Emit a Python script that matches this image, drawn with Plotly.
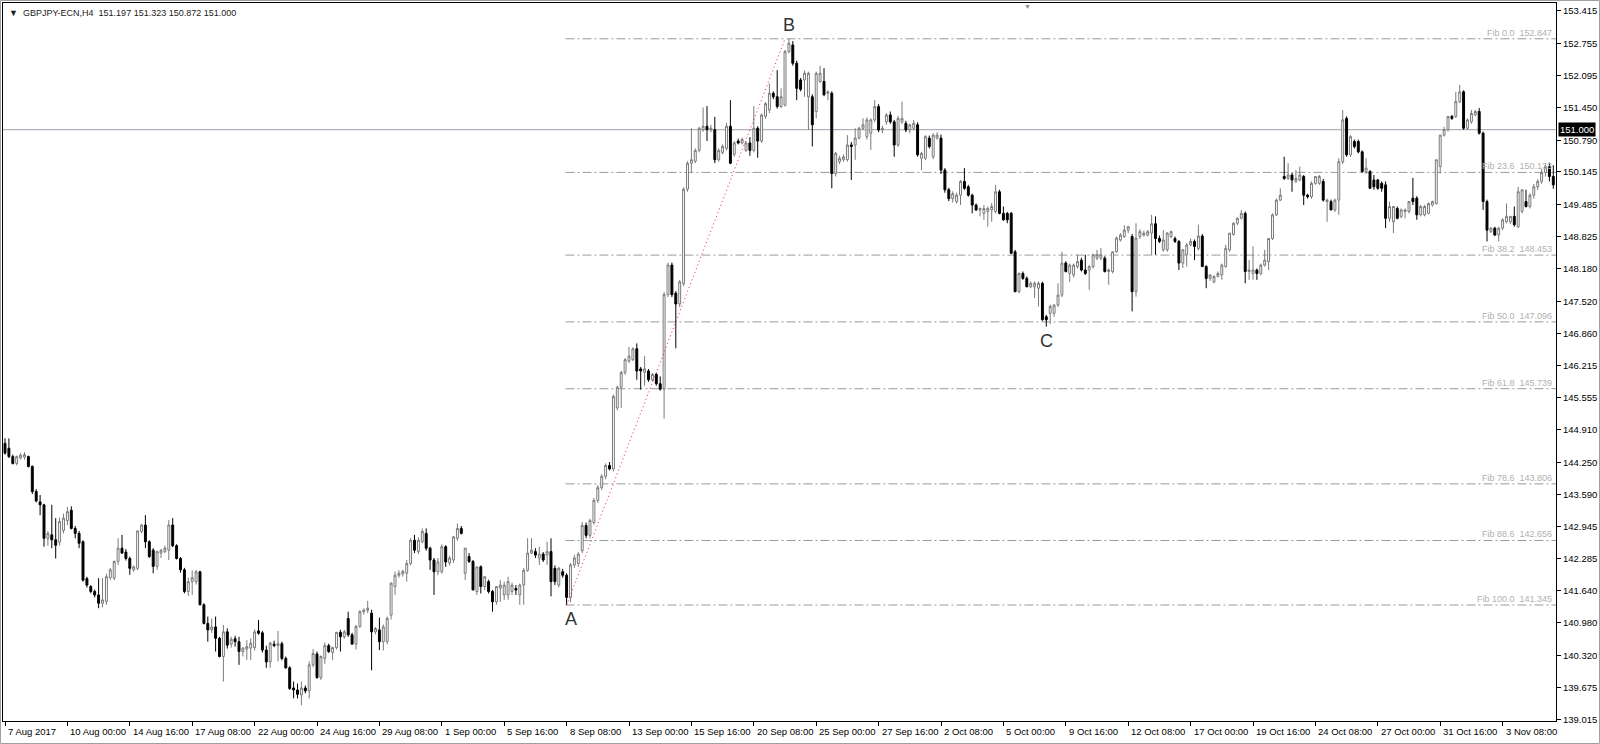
import plotly.graph_objects as go

# ---------------- data ----------------
symbol_header = "GBPJPY-ECN,H4  151.197 151.323 150.872 151.000"
bid_price = 151.000

opens = [
 144.63,144.53,144.36,144.22,144.33,144.35,144.36,144.16,143.65,143.44,
 143.38,142.70,142.77,142.67,142.62,142.86,143.06,143.27,142.90,142.80,
 142.63,141.88,141.72,141.62,141.55,141.38,141.42,141.90,141.89,142.23,
 142.50,142.42,142.29,142.06,142.09,142.84,142.97,142.63,142.46,142.13,
 142.40,142.43,142.46,142.97,142.55,142.29,142.06,141.62,141.82,141.82,
 142.02,141.35,140.97,140.84,140.90,140.67,140.30,140.80,140.55,140.66,
 140.60,140.40,140.45,140.47,140.48,140.82,140.78,140.43,140.19,140.55,
 140.52,140.56,140.26,140.07,139.66,139.62,139.52,139.66,139.60,140.13,
 140.35,139.87,140.26,140.52,140.38,140.48,140.79,140.70,141.07,140.74,
 140.55,140.91,141.21,141.24,141.18,140.80,140.84,140.60,140.60,141.14,
 141.72,141.95,141.98,141.99,142.19,142.66,142.43,142.63,142.80,142.50,
 142.26,142.02,142.02,142.53,142.20,142.26,142.70,142.90,141.99,142.33,
 142.23,141.62,142.12,141.72,141.82,141.62,141.41,141.69,141.55,141.55,
 141.62,141.68,141.55,141.75,142.05,142.40,142.43,142.30,142.38,142.36,
 142.43,142.09,141.75,142.02,141.95,141.50,142.16,142.19,142.45,142.96,
 142.76,143.02,143.47,143.73,143.96,144.18,144.11,145.35,145.77,146.07,
 146.30,146.33,146.55,146.14,146.07,146.10,145.92,146.03,145.84,145.73,
 147.65,148.25,147.68,147.46,147.87,149.79,150.32,150.36,150.58,151.00,
 151.07,151.00,151.00,150.39,150.54,150.62,151.07,150.50,150.77,150.73,
 150.58,150.73,150.58,151.03,150.77,151.27,151.40,151.74,151.67,151.47,
 151.50,152.586,152.72,152.35,152.01,152.01,151.67,151.67,151.37,151.98,
 151.98,151.74,151.74,150.11,150.35,150.39,150.39,150.69,150.69,150.83,
 151.03,150.86,150.93,151.20,151.47,150.995,151.16,151.30,151.16,150.69,
 151.16,151.13,150.995,151.03,151.10,150.42,150.42,150.83,150.45,150.83,
 150.83,150.18,149.78,149.60,149.54,149.67,149.95,149.84,149.67,149.47,
 149.37,149.30,149.34,149.37,149.34,149.74,149.30,149.30,149.30,148.52,
 147.71,148.08,147.98,147.81,147.81,147.78,147.88,147.20,147.27,147.27,
 147.44,147.64,148.29,148.08,148.05,148.22,148.35,148.15,148.15,148.22,
 148.39,148.39,148.39,148.12,148.12,148.52,148.76,148.83,148.96,148.83,
 147.71,148.83,148.86,148.86,148.90,149.09,148.79,148.56,148.56,148.83,
 148.79,148.73,148.29,148.46,148.66,148.73,148.59,148.84,148.22,147.98,
 147.91,148.02,148.05,148.22,148.56,148.87,149.10,149.20,149.30,148.12,
 148.08,148.15,148.08,148.25,148.32,148.79,149.27,149.57,150.05,150.01,
 150.08,149.95,149.98,150.05,149.67,149.64,149.91,149.91,149.95,149.54,
 149.54,149.37,149.57,150.35,151.23,150.49,150.76,150.76,150.55,150.15,
 150.15,149.98,149.98,149.91,149.88,149.20,149.13,149.40,149.24,149.34,
 149.34,149.61,149.61,149.27,149.27,149.30,149.47,149.50,150.25,150.89,
 151.00,151.27,151.27,151.57,151.77,151.03,151.16,151.30,151.37,150.93,
 149.54,148.93,149.00,148.86,149.00,149.13,149.13,149.24,149.03,149.34,
 149.54,149.44,149.67,149.84,149.95,150.13,150.25,150.05,
]

highs = [
 144.73,144.73,144.40,144.38,144.43,144.45,144.38,144.18,143.70,143.58,
 143.40,142.85,143.38,143.11,143.12,143.20,143.34,143.35,142.95,142.85,
 142.66,141.92,141.75,141.66,141.89,141.89,141.98,142.10,142.25,142.70,
 142.77,142.48,142.33,142.15,142.86,142.99,143.17,142.66,142.50,142.45,
 142.48,142.55,143.07,143.11,142.58,142.32,142.10,141.90,142.05,142.06,
 142.04,141.38,141.11,141.07,141.11,140.70,140.94,140.87,140.70,140.72,
 140.70,140.49,140.63,140.67,140.85,141.04,140.82,140.52,140.60,140.62,
 140.82,140.60,140.30,140.10,139.79,139.75,139.79,139.71,140.20,140.45,
 140.40,140.32,140.58,140.56,140.50,140.80,140.84,140.84,141.21,140.78,
 140.94,141.24,141.28,141.43,141.25,140.90,141.09,140.95,141.11,141.80,
 142.02,142.05,142.06,142.26,142.70,142.77,142.72,142.90,142.90,142.53,
 142.30,142.30,142.58,142.56,142.35,142.75,143.00,142.95,142.50,142.40,
 142.26,142.12,142.15,141.93,141.86,141.65,141.72,141.85,141.82,141.92,
 141.80,141.75,141.78,142.10,142.70,142.70,142.50,142.53,142.42,142.63,
 142.70,142.15,142.12,142.08,141.99,142.20,142.36,142.42,143.03,143.02,
 143.10,143.52,143.78,144.00,144.22,144.25,145.62,145.80,146.10,146.36,
 146.59,146.58,146.66,146.18,146.40,146.14,146.06,146.06,145.99,147.70,
 148.30,148.30,147.72,147.95,149.83,150.36,151.03,150.62,151.06,151.45,
 151.48,151.10,151.26,150.62,150.70,151.14,151.60,150.77,150.82,150.84,
 150.77,150.85,151.48,151.07,151.33,151.56,151.94,151.78,152.21,151.84,
 152.62,152.847,152.80,152.40,152.05,152.20,152.18,151.72,152.18,152.30,
 152.25,151.80,151.78,150.55,150.47,150.50,150.89,150.75,151.03,151.06,
 151.23,151.25,151.23,151.60,151.52,151.08,151.34,151.37,151.20,151.28,
 151.57,151.18,151.12,151.20,151.15,150.55,150.89,150.88,150.93,150.95,
 150.90,150.22,149.82,149.75,149.72,149.98,150.22,149.88,149.70,149.50,
 149.42,149.47,149.44,149.51,149.88,149.78,149.44,149.33,149.33,148.56,
 148.10,148.12,148.02,147.92,147.92,147.92,147.91,147.24,147.45,147.45,
 147.88,148.52,148.33,148.28,148.28,148.46,148.40,148.46,148.25,148.48,
 148.56,148.60,148.43,148.18,148.52,148.83,148.90,149.06,149.05,148.88,
 149.10,148.98,148.95,148.96,149.27,149.24,148.85,148.96,148.92,148.95,
 148.83,148.76,148.58,148.70,148.79,148.77,149.07,148.88,148.25,148.06,
 148.04,148.12,148.28,148.66,148.90,149.12,149.22,149.37,149.34,148.35,
 148.63,148.18,148.28,148.56,148.79,149.30,149.60,149.81,150.45,150.32,
 150.12,150.18,150.25,150.08,149.70,149.95,150.06,150.08,150.00,149.60,
 149.58,149.60,150.42,151.40,151.27,150.89,150.80,150.80,150.58,150.42,
 150.18,150.08,150.00,149.95,149.95,149.54,149.44,149.44,149.40,149.40,
 149.54,150.02,149.65,149.47,149.47,149.52,149.56,150.39,150.89,151.06,
 151.27,151.30,151.77,151.91,151.80,151.23,151.40,151.40,151.44,150.96,
 149.58,149.02,149.03,149.03,149.20,149.50,149.24,149.44,149.84,149.78,
 149.78,149.71,149.90,150.00,150.20,150.30,150.33,150.28,
]

lows = [
 144.40,144.33,144.20,144.18,144.30,144.30,144.14,143.60,143.43,143.17,
 142.53,142.55,142.50,142.29,142.55,142.80,142.97,142.88,142.70,142.50,
 141.82,141.70,141.58,141.50,141.28,141.30,141.35,141.86,141.85,142.16,
 142.38,142.25,141.96,142.02,142.05,142.80,142.50,142.30,141.99,142.06,
 142.30,142.40,142.26,142.52,142.27,142.00,141.58,141.53,141.55,141.76,
 141.34,140.95,140.60,140.78,140.40,140.28,139.79,140.46,140.48,140.50,
 140.13,140.30,140.23,140.23,140.42,140.74,140.38,140.07,140.07,140.49,
 140.20,140.22,140.05,139.62,139.45,139.45,139.31,139.55,139.45,140.08,
 139.85,139.82,140.15,140.37,140.23,140.44,140.40,140.66,140.70,140.55,
 140.44,140.88,141.15,141.18,140.02,140.75,140.43,140.42,140.55,141.05,
 141.55,141.90,141.92,141.82,142.15,142.40,142.38,142.60,142.45,142.06,
 141.55,141.95,141.98,142.12,142.15,142.20,142.65,142.78,141.85,142.20,
 141.65,141.55,141.58,141.65,141.58,141.21,141.35,141.41,141.45,141.45,
 141.55,141.55,141.35,141.35,142.02,142.38,142.30,142.16,142.22,142.16,
 141.52,141.75,141.70,141.90,141.345,141.40,142.10,142.12,142.40,142.70,
 142.70,142.98,143.42,143.68,143.90,144.08,144.06,145.30,145.35,146.02,
 146.26,146.30,145.92,145.72,145.80,145.88,145.88,145.80,145.70,145.13,
 147.60,147.60,146.56,147.40,147.82,149.74,150.13,150.32,150.54,150.96,
 150.77,150.95,150.32,150.35,150.50,150.58,150.30,150.45,150.70,150.70,
 150.55,150.47,150.54,150.43,150.73,151.22,151.34,151.62,151.43,151.44,
 151.47,152.55,152.30,151.60,151.78,151.67,150.995,150.66,151.23,151.95,
 151.68,151.60,149.81,150.05,150.30,150.35,150.35,149.98,150.39,150.80,
 150.99,150.80,150.59,151.15,150.95,150.93,151.10,151.12,150.45,150.65,
 151.12,150.95,150.93,150.99,150.45,150.18,150.38,150.62,150.40,150.80,
 150.10,149.72,149.55,149.52,149.50,149.47,149.78,149.64,149.30,149.35,
 149.24,149.17,149.03,149.13,149.30,149.28,149.15,149.10,148.48,147.70,
 147.68,147.95,147.80,147.78,147.58,147.41,147.12,147.00,147.05,147.20,
 147.40,147.60,148.10,147.91,148.00,148.18,148.12,148.05,147.75,148.18,
 148.35,148.35,148.10,147.85,148.08,148.50,148.73,148.80,148.90,147.31,
 147.61,148.78,148.83,148.83,148.46,148.46,148.70,148.52,148.52,148.80,
 148.70,148.15,148.19,148.22,148.63,148.35,148.55,148.22,147.78,147.93,
 147.88,148.00,147.95,148.20,148.52,148.85,149.06,149.18,147.88,147.95,
 147.95,147.95,148.04,148.22,148.15,148.76,149.25,149.55,149.98,149.98,
 149.74,149.92,149.95,149.47,149.60,149.60,149.88,149.88,149.54,149.13,
 149.37,149.33,149.27,150.30,150.45,150.45,150.62,150.52,150.12,150.10,
 149.80,149.78,149.78,149.74,149.00,149.13,148.90,149.18,149.20,149.20,
 149.30,149.47,149.17,149.24,149.24,149.28,149.44,149.48,150.11,150.86,
 150.96,151.20,151.24,151.54,151.00,151.00,151.12,151.28,150.90,149.37,
 148.73,148.90,148.84,148.73,148.96,149.10,149.08,149.03,149.00,149.30,
 149.42,149.40,149.60,149.78,149.90,150.05,149.95,149.80,
]

closes = [
 144.43,144.36,144.22,144.36,144.39,144.40,144.16,143.65,143.46,143.38,
 142.70,142.80,142.67,142.56,143.04,143.11,143.24,142.90,142.80,142.60,
 141.85,141.75,141.62,141.55,141.38,141.45,141.92,142.06,142.23,142.50,
 142.40,142.29,142.09,142.12,142.85,142.97,142.63,142.33,142.13,142.43,
 142.46,142.50,142.97,142.55,142.29,142.06,141.62,141.82,141.90,142.02,
 141.35,140.97,140.84,140.90,140.67,140.30,140.80,140.53,140.65,140.60,
 140.40,140.47,140.50,140.57,140.80,140.77,140.43,140.19,140.57,140.52,
 140.56,140.26,140.07,139.65,139.62,139.53,139.66,139.60,140.13,140.36,
 139.87,140.30,140.52,140.40,140.48,140.79,140.70,140.80,140.74,140.55,
 140.91,141.21,141.24,141.28,140.80,140.87,140.60,140.90,141.07,141.79,
 141.95,141.99,142.03,142.19,142.66,142.46,142.66,142.84,142.50,142.26,
 142.02,142.22,142.53,142.22,142.30,142.73,142.90,142.80,142.50,142.23,
 141.65,142.12,141.72,141.92,141.62,141.41,141.72,141.75,141.75,141.82,
 141.75,141.65,141.75,142.05,142.40,142.46,142.36,142.38,142.26,142.43,
 141.82,141.82,142.09,141.95,141.50,142.16,142.30,142.38,142.96,142.76,
 143.06,143.47,143.73,143.96,144.18,144.11,145.58,145.77,146.07,146.33,
 146.40,146.55,146.10,146.10,146.14,145.92,146.03,145.84,145.73,147.65,
 148.25,147.65,147.46,147.91,149.79,150.32,150.39,150.58,151.03,151.07,
 151.00,151.03,150.39,150.58,150.66,151.07,150.32,150.73,150.73,150.80,
 150.73,150.58,151.03,150.77,151.30,151.53,151.74,151.67,151.47,151.67,
 152.586,152.756,152.35,151.84,151.82,152.146,152.146,151.10,152.146,152.146,
 151.71,151.77,150.11,150.52,150.42,150.45,150.69,150.66,150.83,151.03,
 151.10,151.20,151.20,151.47,150.995,151.03,151.30,151.16,150.69,151.23,
 151.23,150.995,151.10,151.13,150.49,150.52,150.86,150.66,150.89,150.89,
 150.18,149.78,149.60,149.70,149.67,149.95,149.81,149.67,149.47,149.37,
 149.40,149.40,149.40,149.44,149.74,149.30,149.17,149.17,148.49,147.71,
 148.08,147.98,147.81,147.88,147.88,147.88,147.14,147.14,147.41,147.44,
 147.64,148.29,148.12,148.25,148.25,148.32,148.15,148.08,148.22,148.46,
 148.46,148.46,148.12,148.15,148.52,148.80,148.86,148.96,149.03,147.71,
 148.80,148.93,148.90,148.93,149.09,148.79,148.73,148.76,148.90,148.93,
 148.73,148.29,148.56,148.66,148.73,148.63,148.84,148.22,147.98,148.05,
 148.02,148.08,148.25,148.59,148.90,149.10,149.20,149.30,148.12,148.15,
 148.15,148.08,148.25,148.35,148.79,149.27,149.57,149.67,150.01,150.08,
 149.98,150.01,150.08,149.67,149.64,149.91,150.05,150.05,149.57,149.57,
 149.37,149.57,150.35,151.20,150.49,150.86,150.66,150.55,150.15,150.22,
 149.81,149.84,149.81,149.81,149.20,149.44,149.44,149.20,149.37,149.37,
 149.54,149.54,149.27,149.44,149.44,149.50,149.54,150.39,150.89,151.00,
 151.27,151.23,151.57,151.77,151.03,151.20,151.33,151.37,150.93,149.54,
 148.96,149.00,148.86,149.00,149.17,149.24,149.24,149.07,149.74,149.78,
 149.44,149.67,149.84,149.95,150.13,150.25,150.05,149.88,
]

assert len(opens) == len(highs) == len(lows) == len(closes), (len(opens), len(highs), len(lows), len(closes))
bar_index = list(range(len(closes)))

x_label_bar = [0, 16, 32, 48, 64, 80, 96, 112, 128, 144, 160, 176, 192,
               208, 224, 240, 256, 272, 288, 304, 320, 336, 352, 368, 384]
x_labels = ["7 Aug 2017", "10 Aug 00:00", "14 Aug 16:00", "17 Aug 08:00", "22 Aug 00:00",
            "24 Aug 16:00", "29 Aug 08:00", "1 Sep 00:00", "5 Sep 16:00", "8 Sep 08:00",
            "13 Sep 00:00", "15 Sep 16:00", "20 Sep 08:00", "25 Sep 00:00", "27 Sep 16:00",
            "2 Oct 08:00", "5 Oct 00:00", "9 Oct 16:00", "12 Oct 08:00", "17 Oct 00:00",
            "19 Oct 16:00", "24 Oct 08:00", "27 Oct 00:00", "31 Oct 16:00", "3 Nov 08:00"]

y_ticks = [153.415, 152.755, 152.095, 151.450, 150.790, 150.145, 149.485, 148.825,
           148.180, 147.520, 146.860, 146.215, 145.555, 144.910, 144.250, 143.590,
           142.945, 142.285, 141.640, 140.980, 140.320, 139.675, 139.015]

fib_levels = [0.0, 23.6, 38.2, 50.0, 61.8, 78.6, 88.6, 100.0]
fib_prices = [152.847, 150.133, 148.453, 147.096, 145.739, 143.806, 142.656, 141.345]
fib_anchor_bar = [144, 200]          # A, B anchors of the Fibonacci tool
fib_anchor_price = [141.345, 152.847]

pivot_names = ["A", "B", "C"]
pivot_bar = [145, 201, 267]
pivot_price = [141.345, 152.847, 147.00]
pivot_side = [-1, 1, -1]             # below / above the price

# ---------------- layout geometry ----------------
W, H = 1600, 744
ML, MR, MT, MB = 3, 44, 3, 23
PW, PH = W - ML - MR, H - MT - MB
PX_PER_BAR = 3.9
X0 = (ML - 5) / PX_PER_BAR                # bar 0 drawn at pixel x=5
XR = [X0, X0 + PW / PX_PER_BAR]
YR = [138.989, 153.574]


def px_x(px):
    return (px - ML) / PW


def px_y(py):
    return 1 - (py - MT) / PH


FONT = "Liberation Sans, Arial, sans-serif"

fig = go.Figure()
fig.add_trace(go.Candlestick(
    x=bar_index, open=opens, high=highs, low=lows, close=closes,
    increasing=dict(line=dict(color="#7a7a7a", width=1), fillcolor="#ffffff"),
    decreasing=dict(line=dict(color="#000000", width=1), fillcolor="#000000"),
    whiskerwidth=0, showlegend=False, hoverinfo="skip",
))

shapes = []
# current bid line
shapes.append(dict(type="line", xref="paper", yref="y", x0=0, x1=1,
                   y0=bid_price, y1=bid_price,
                   line=dict(color="#aeb2bd", width=1.2), layer="below"))
# fibonacci levels
for p in fib_prices:
    shapes.append(dict(type="line", xref="x", yref="y",
                       x0=fib_anchor_bar[0] - 0.3, x1=XR[1], y0=p, y1=p,
                       line=dict(color="#9a9a9a", width=1, dash="9px,3px,2px,3px"),
                       layer="below"))
# trend line A-B
shapes.append(dict(type="line", xref="x", yref="y",
                   x0=fib_anchor_bar[0], y0=fib_anchor_price[0],
                   x1=fib_anchor_bar[1], y1=fib_anchor_price[1],
                   line=dict(color="#ff2020", width=1, dash="1px,3px"), layer="above"))
# outer window frame
shapes.append(dict(type="rect", xref="paper", yref="paper",
                   x0=px_x(0.5), x1=px_x(W - 0.5), y0=px_y(H - 0.5), y1=px_y(0.5),
                   line=dict(color="#a0a0a0", width=1), fillcolor="rgba(0,0,0,0)"))

annotations = []
for lvl, p in zip(fib_levels, fib_prices):
    annotations.append(dict(
        x=XR[1], y=p, xref="x", yref="y", xanchor="right", yanchor="bottom",
        text=f"Fib {lvl:.1f}\u00a0\u00a0{p:.3f}", showarrow=False, xshift=-2, yshift=-1,
        font=dict(family=FONT, size=9, color="#b0b0b0")))

for name, b, p, s in zip(pivot_names, pivot_bar, pivot_price, pivot_side):
    annotations.append(dict(
        x=b, y=p, xref="x", yref="y", text=name, showarrow=False,
        yanchor="middle", yshift=14 * s,
        font=dict(family=FONT, size=18, color="#333333")))

# time-axis labels: left-aligned just after each tick mark
for b, lab in zip(x_label_bar, x_labels):
    annotations.append(dict(
        x=b, y=px_y(731), xref="x", yref="paper", text=lab, showarrow=False,
        xanchor="left", yanchor="middle", xshift=1,
        font=dict(family=FONT, size=9.5, color="#000000")))

# price-axis labels: left-aligned just after the tick marks
for v in y_ticks:
    annotations.append(dict(
        x=px_x(1561), y=v, xref="paper", yref="y", text=f"{v:.3f}", showarrow=False,
        xanchor="left", yanchor="middle",
        font=dict(family=FONT, size=9.5, color="#000000")))

annotations.append(dict(
    x=px_x(1558), y=bid_price, xref="paper", yref="y", text=f"{bid_price:.3f}", showarrow=False,
    xanchor="left", yanchor="middle", bgcolor="#000000", borderpad=1,
    font=dict(family=FONT, size=9.5, color="#ffffff")))

annotations.append(dict(
    x=px_x(7), y=px_y(13), xref="paper", yref="paper", showarrow=False,
    xanchor="left", yanchor="middle",
    text="\u25bc\u00a0\u00a0" + symbol_header.replace("  ", "\u00a0\u00a0"),
    font=dict(family=FONT, size=9, color="#1a1a1a")))

annotations.append(dict(
    x=px_x(1027), y=px_y(6), xref="paper", yref="paper", showarrow=False,
    xanchor="center", yanchor="middle", text="\u25bc",
    font=dict(family=FONT, size=7, color="#8c8c8c")))

fig.update_layout(
    width=W, height=H, autosize=False,
    margin=dict(l=ML, r=MR, t=MT, b=MB, pad=0, autoexpand=False),
    paper_bgcolor="white", plot_bgcolor="white",
    shapes=shapes, annotations=annotations,
    xaxis=dict(range=XR, rangeslider=dict(visible=False), showgrid=False, zeroline=False,
               automargin=False,
               tickmode="array", tickvals=x_label_bar, showticklabels=False,
               ticks="outside", ticklen=4, tickcolor="#000000",
               showline=True, linecolor="#000000", linewidth=1, mirror=True),
    yaxis=dict(range=YR, side="right", showgrid=False, zeroline=False,
               automargin=False,
               tickmode="array", tickvals=y_ticks, showticklabels=False,
               ticks="outside", ticklen=4, tickcolor="#000000",
               showline=True, linecolor="#000000", linewidth=1, mirror=True),
    font=dict(family=FONT, size=9, color="#000000"),
    hovermode=False,
)

# remove the browser's default page margin so the figure sits at the window origin
fig.write_html(
    "out.html",
    config={"displayModeBar": False, "staticPlot": True},
    post_script="document.body.style.margin='0px';document.body.style.padding='0px';"
                "document.body.style.overflow='hidden';",
)
